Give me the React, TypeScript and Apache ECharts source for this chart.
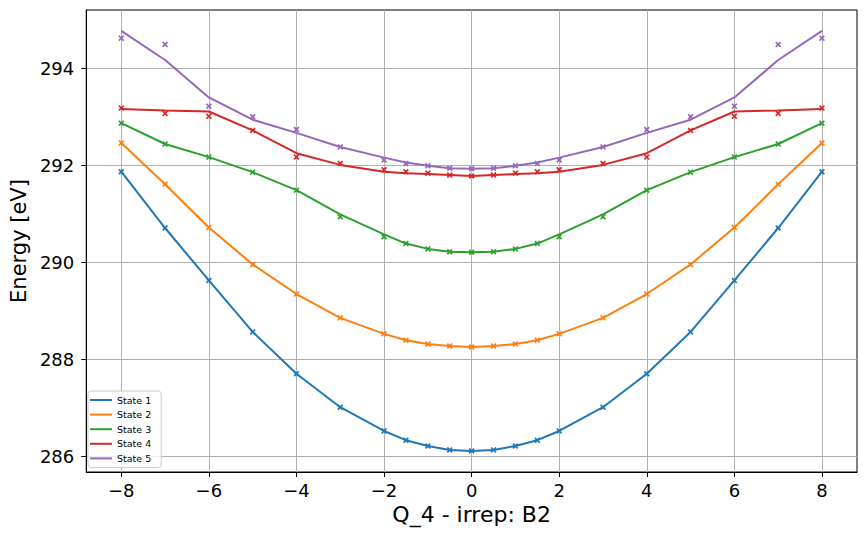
import React, { useEffect, useRef } from 'react';
import * as echarts from 'echarts';

const xValues = [-8, -7, -6, -5, -4, -3, -2, -1.5, -1, -0.5, 0, 0.5, 1, 1.5, 2, 3, 4, 5, 6, 7, 8];

const stateNames = ['State 1', 'State 2', 'State 3', 'State 4', 'State 5'];
const colors = ['#1f77b4', '#ff7f0e', '#2ca02c', '#d62728', '#9467bd'];

// fitted curves (lines)
const state1Fit = [291.87, 290.71, 289.63, 288.57, 287.71, 287.02, 286.53, 286.34, 286.22, 286.14, 286.12, 286.14, 286.22, 286.34, 286.53, 287.02, 287.71, 288.57, 289.63, 290.71, 291.87];
const state2Fit = [292.46, 291.61, 290.72, 289.96, 289.35, 288.86, 288.53, 288.40, 288.32, 288.28, 288.26, 288.28, 288.32, 288.40, 288.53, 288.86, 289.35, 289.96, 290.72, 291.61, 292.46];
const state3Fit = [292.87, 292.44, 292.17, 291.86, 291.49, 290.99, 290.58, 290.39, 290.28, 290.22, 290.21, 290.22, 290.28, 290.39, 290.58, 290.99, 291.49, 291.86, 292.17, 292.44, 292.87];
const state4Fit = [293.16, 293.13, 293.11, 292.72, 292.25, 292.01, 291.87, 291.84, 291.82, 291.80, 291.78, 291.80, 291.82, 291.84, 291.87, 292.01, 292.25, 292.72, 293.11, 293.13, 293.16];
const state5Fit = [294.77, 294.17, 293.40, 292.94, 292.67, 292.38, 292.16, 292.06, 291.99, 291.94, 291.93, 291.94, 291.99, 292.06, 292.16, 292.38, 292.67, 292.94, 293.40, 294.17, 294.77];

// computed points (markers)
const state1Pts = [291.87, 290.71, 289.63, 288.57, 287.71, 287.02, 286.53, 286.34, 286.22, 286.14, 286.12, 286.14, 286.22, 286.34, 286.53, 287.02, 287.71, 288.57, 289.63, 290.71, 291.87];
const state2Pts = [292.46, 291.61, 290.72, 289.96, 289.35, 288.86, 288.53, 288.40, 288.32, 288.28, 288.26, 288.28, 288.32, 288.40, 288.53, 288.86, 289.35, 289.96, 290.72, 291.61, 292.46];
const state3Pts = [292.87, 292.44, 292.17, 291.86, 291.49, 290.94, 290.53, 290.39, 290.28, 290.22, 290.21, 290.22, 290.28, 290.39, 290.53, 290.94, 291.49, 291.86, 292.17, 292.44, 292.87];
const state4Pts = [293.18, 293.07, 293.01, 292.72, 292.17, 292.04, 291.91, 291.87, 291.84, 291.80, 291.78, 291.80, 291.84, 291.87, 291.91, 292.04, 292.17, 292.72, 293.01, 293.07, 293.18];
const state5Pts = [294.62, 294.49, 293.22, 293.00, 292.74, 292.38, 292.11, 292.04, 291.99, 291.94, 291.93, 291.94, 291.99, 292.04, 292.11, 292.38, 292.74, 293.00, 293.22, 294.49, 294.62];

const fits = [state1Fit, state2Fit, state3Fit, state4Fit, state5Fit];
const pts = [state1Pts, state2Pts, state3Pts, state4Pts, state5Pts];

const xTicks = [-8, -6, -4, -2, 0, 2, 4, 6, 8];
const yTicks = [286, 288, 290, 292, 294];

const FONT = 'DejaVu Sans';
const X_MARK = 'path://M0,2L2,0L5,3L8,0L10,2L7,5L10,8L8,10L5,7L2,10L0,8L3,5Z';

export default function App() {
  const ref = useRef<HTMLDivElement>(null);
  useEffect(() => {
    document.body.style.margin = '0';
    const chart = echarts.init(ref.current!, null, { renderer: 'svg' });
    const series: any[] = [];
    for (let i = 0; i < 5; i++) {
      series.push({
        name: stateNames[i],
        type: 'line',
        data: xValues.map((x, j) => [x, fits[i][j]]),
        showSymbol: false,
        symbol: 'none',
        lineStyle: { color: colors[i], width: 2 },
        itemStyle: { color: colors[i] },
        z: 3 + i * 2,
      });
      series.push({
        name: stateNames[i] + ' points',
        type: 'scatter',
        data: xValues.map((x, j) => [x, pts[i][j]]),
        symbol: X_MARK,
        symbolSize: 6,
        itemStyle: { color: colors[i], opacity: 1 },
        z: 2 + i * 2,
      });
    }
    const minusFmt = (v: number) => String(v).replace('-', '\u2212');
    chart.setOption({
      animation: false,
      backgroundColor: '#ffffff',
      grid: { left: 83, right: 10, top: 10, bottom: 65, containLabel: false, show: true, borderColor: '#000', borderWidth: 1, backgroundColor: 'transparent' },
      xAxis: {
        type: 'value',
        min: -8.8,
        max: 8.8,
        name: 'Q_4 - irrep: B2',
        nameLocation: 'middle',
        nameGap: 30,
        nameTextStyle: { fontFamily: FONT, fontSize: 22, color: '#000' },
        axisLine: { show: true, onZero: false, lineStyle: { color: '#000', width: 1 } },
        axisTick: { show: true, inside: false, length: 5, customValues: xTicks, lineStyle: { color: '#000', width: 1 } },
        axisLabel: { customValues: xTicks, formatter: minusFmt, fontFamily: FONT, fontSize: 18, color: '#000', margin: 9 },
        splitLine: { show: true, lineStyle: { color: '#b0b0b0', width: 1 } },
      },
      yAxis: {
        type: 'value',
        min: 285.685,
        max: 295.2,
        name: 'Energy [eV]',
        nameLocation: 'middle',
        nameGap: 51,
        nameTextStyle: { fontFamily: FONT, fontSize: 21, color: '#000' },
        axisLine: { show: true, onZero: false, lineStyle: { color: '#000', width: 1 } },
        axisTick: { show: true, inside: false, length: 5, customValues: yTicks, lineStyle: { color: '#000', width: 1 } },
        axisLabel: { customValues: yTicks, fontFamily: FONT, fontSize: 18, color: '#000', margin: 12 },
        splitLine: { show: true, lineStyle: { color: '#b0b0b0', width: 1 } },
      },
      legend: {
        data: stateNames,
        orient: 'vertical',
        left: 88,
        top: 391,
        icon: 'rect',
        itemWidth: 22,
        itemHeight: 2,
        itemGap: 2.6,
        padding: [3, 10, 3, 2],
        borderColor: '#cccccc',
        borderWidth: 1,
        borderRadius: 3,
        backgroundColor: 'rgba(255,255,255,0.8)',
        textStyle: { fontFamily: FONT, fontSize: 9.5, color: '#000', lineHeight: 12 },
        selectedMode: false,
      },
      series,
    });
    return () => chart.dispose();
  }, []);
  return <div ref={ref} style={{ width: 867, height: 537 }} />;
}
